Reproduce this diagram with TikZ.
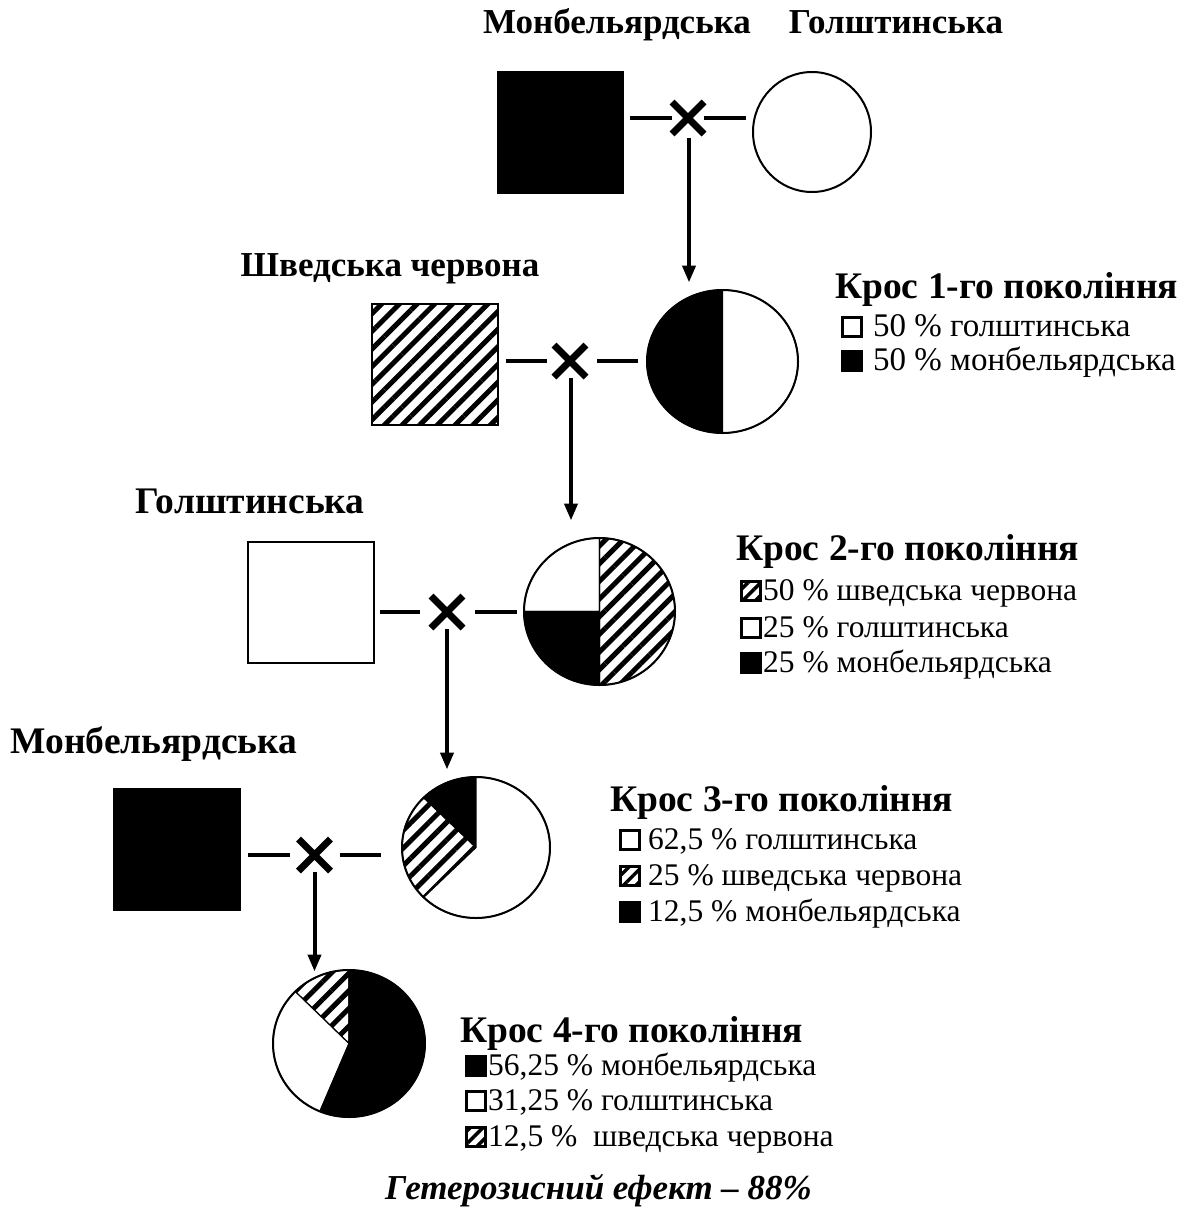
\documentclass[tikz,border=0pt]{standalone}
\usepackage{fontspec}
\setmainfont{Liberation Serif}
\usetikzlibrary{arrows.meta,calc,shapes.geometric,patterns.meta}
\tikzset{
 lbl/.style={font=\fontsize{35}{40}\selectfont\bfseries, inner sep=0, anchor=base},
 lblb/.style={font=\fontsize{37.5}{42}\selectfont\bfseries, inner sep=0, anchor=base},
 head/.style={font=\fontsize{37.5}{42}\selectfont\bfseries, inner sep=0, anchor=base west},
 leg/.style={font=\fontsize{31.5}{36}\selectfont, inner sep=0, anchor=base west},
 legw/.style={leg, font=\fontsize{33}{38}\selectfont},
 sq/.style={draw, line width=1.5, minimum width=126, minimum height=121, inner sep=0},
 hatch/.style={pattern={Lines[angle=45,distance=12.5pt,line width=5pt]}},
 hatchs/.style={pattern={Lines[angle=45,distance=9pt,line width=3.5pt]}},
 circ/.style={ellipse, draw, line width=2, inner sep=0},
 conn/.style={line width=4.5},
 arr/.style={line width=4, -{Triangle[length=17pt,width=13pt]}},
 xmark/.style={line width=7},
 slice/.style={draw, line width=1.2},
 icon/.style={draw, line width=2.5, minimum size=19, inner sep=0},
}
\newcommand\crossmark[1]{\draw[xmark] ($(#1)+(-16,-16)$) -- ($(#1)+(16,16)$) ($(#1)+(-16,16)$) -- ($(#1)+(16,-16)$);}
% center, rx, ry, start, end, style
\newcommand\pieslice[6]{\path[slice,#6] (#1) -- ++({#2*cos(#4)},{-#3*sin(#4)}) arc[start angle={-#4}, end angle={-#5}, x radius=#2, y radius=#3] -- cycle;}
\begin{document}
\begin{tikzpicture}[x=1pt,y=-1pt]
\useasboundingbox[fill=white] (0,0) rectangle (1192,1216);

% ---------- row 1 ----------
\node[lbl] (t1) at (617,33) {Монбельярдська};
\node[lbl] (t2) at (896,33) {Голштинська};
\node[sq, fill=black] (s1) at (560.5,132.5) {};
\node[circ, minimum width=118, minimum height=120] (c1) at (812,132) {};
\coordinate (x1) at (688,118);
\crossmark{x1}

% ---------- row 2 ----------
\node[lbl] (t3) at (390,276) {Шведська червона};
\node[sq, hatch] (s2) at (435,364.5) {};
\coordinate (p2) at (722.5,361.5);
\pieslice{p2}{75.5}{71.5}{90}{270}{fill=black}
\pieslice{p2}{75.5}{71.5}{270}{450}{fill=white}
\node[circ, minimum width=151, minimum height=143] (c2) at (p2) {};
\coordinate (x2) at (570,361);
\crossmark{x2}
\node[head] (h1) at (835,298) {Крос 1-го покоління};
\node[icon, fill=white] (i11) at (852,327) {};
\node[legw] (l11) at (873,336) {50 \% голштинська};
\node[icon, fill=black] (i12) at (852,361) {};
\node[legw] (l12) at (873,370) {50 \% монбельярдська};

% ---------- row 3 ----------
\node[lblb] (t4) at (250,513) {Голштинська};
\node[sq, fill=white] (s3) at (311,602.5) {};
\coordinate (p3) at (599.5,611.5);
\pieslice{p3}{75.5}{73.5}{90}{180}{fill=white}
\pieslice{p3}{75.5}{73.5}{180}{270}{fill=black}
\pieslice{p3}{75.5}{73.5}{270}{450}{hatch}
\node[circ, minimum width=151, minimum height=147] (c3) at (p3) {};
\coordinate (x3) at (447,612);
\crossmark{x3}
\node[head] (h2) at (736,560) {Крос 2-го покоління};
\node[icon, hatchs] (i21) at (751,591) {};
\node[leg] (l21) at (763,600) {50 \%\ шведська червона};
\node[icon, fill=white] (i22) at (751,628) {};
\node[leg] (l22) at (763,637) {25 \% голштинська};
\node[icon, fill=black] (i23) at (751,663) {};
\node[leg] (l23) at (763,672) {25 \% монбельярдська};

% ---------- row 4 ----------
\node[lblb] (t5) at (154,753) {Монбельярдська};
\node[sq, fill=black] (s4) at (177,849.5) {};
\coordinate (p4) at (476,847.5);
\pieslice{p4}{74}{70.5}{90}{135}{fill=black}
\pieslice{p4}{74}{70.5}{135}{225}{hatch}
\pieslice{p4}{74}{70.5}{225}{450}{fill=white}
\node[circ, minimum width=148, minimum height=141] (c4) at (p4) {};
\coordinate (x4) at (314.5,855);
\crossmark{x4}
\node[head] (h3) at (610,811) {Крос 3-го покоління};
\node[icon, fill=white] (i31) at (630,840) {};
\node[leg] (l31) at (648,849) {62,5 \% голштинська};
\node[icon, hatchs] (i32) at (630,876) {};
\node[leg] (l32) at (648,885) {25 \%\ шведська червона};
\node[icon, fill=black] (i33) at (630,912) {};
\node[leg] (l33) at (648,921) {12,5 \% монбельярдська};

% ---------- row 5 ----------
\coordinate (p5) at (349,1043.5);
\pieslice{p5}{76}{73.5}{90}{135}{hatch}
\pieslice{p5}{76}{73.5}{135}{247.5}{fill=white}
\pieslice{p5}{76}{73.5}{247.5}{450}{fill=black}
\node[circ, minimum width=152, minimum height=147] (c5) at (p5) {};
\node[head] (h4) at (460,1042) {Крос 4-го покоління};
\node[icon, fill=black] (i41) at (476,1066) {};
\node[leg] (l41) at (488,1075) {56,25 \% монбельярдська};
\node[icon, fill=white] (i42) at (476,1101) {};
\node[leg] (l42) at (488,1110) {31,25 \% голштинська};
\node[icon, hatchs] (i43) at (476,1137) {};
\node[leg] (l43) at (488,1146) {12,5 \%\ \ шведська червона};

\node[font=\fontsize{35}{40}\selectfont\bfseries\itshape, inner sep=0, anchor=base west] (eff) at (385,1199) {Гетерозисний ефект – 88\%};

% ---------- connectors ----------
\draw[conn] ($(s1.east|-x1)+(6,0)$) -- ($(x1)+(-16,0)$);
\draw[conn] ($(x1)+(16,0)$) -- ($(c1.west|-x1)+(-6,0)$);
\draw[arr] ($(x1)+(1,20)$) -- ($(x1|-c2.north)+(1,-6.5)$);

\draw[conn] ($(s2.east|-x2)+(5,0)$) -- ($(x2)+(-23,0)$);
\draw[conn] ($(x2)+(27,0)$) -- ($(c2.west|-x2)+(-8,0)$);
\draw[arr] ($(x2)+(1,17)$) -- ($(x2|-c3.north)+(1,-16.5)$);

\draw[conn] ($(s3.east|-x3)+(5,0)$) -- ($(x3)+(-27,0)$);
\draw[conn] ($(x3)+(28,0)$) -- ($(c3.west|-x3)+(-6,0)$);
\draw[arr] ($(x3)+(0,17)$) -- ($(x3|-c4.north)+(0,-6.5)$);

\draw[conn] ($(s4.east|-x4)+(7,0)$) -- ($(x4)+(-25,0)$);
\draw[conn] ($(x4)+(25,0)$) -- ($(c4.west|-x4)+(-20,0)$);
\draw[arr] ($(x4)+(0,17)$) -- ($(x4|-c5.north)+(0,2.5)$);
\end{tikzpicture}
\end{document}
